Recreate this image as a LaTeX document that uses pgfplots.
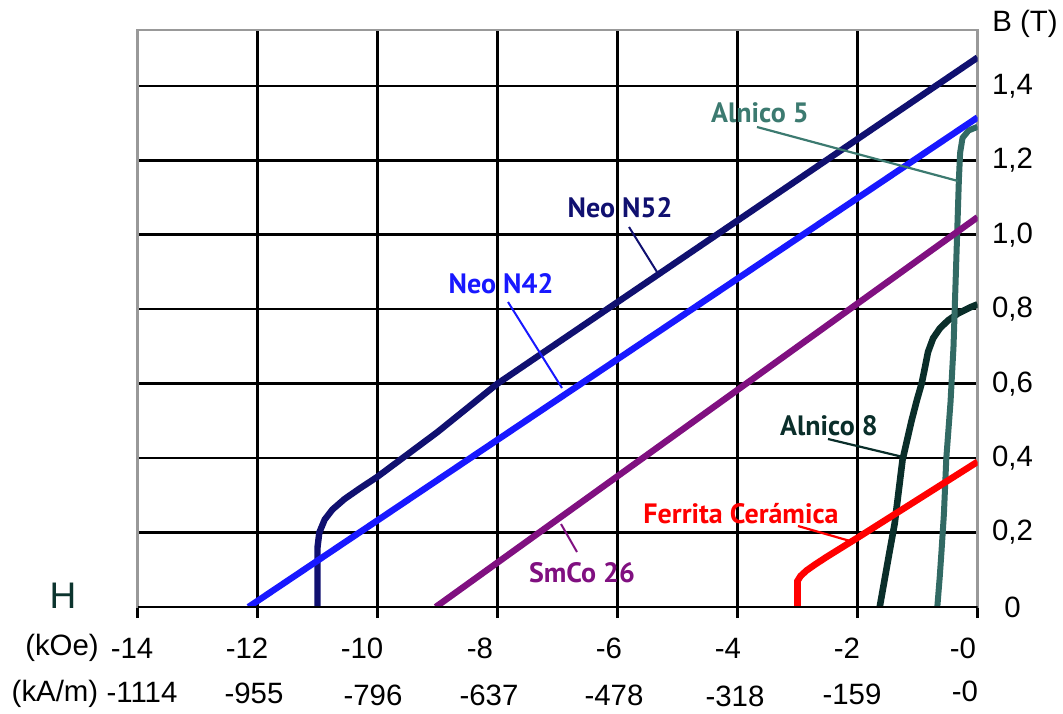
\documentclass[border=0pt]{standalone}
\usepackage{fontspec}
\setmainfont{Liberation Sans}
\newfontfamily\labfont{PT Sans}
\usepackage{pgfplots}
\pgfplotsset{compat=1.18}
\definecolor{cN52}{RGB}{16,16,112}
\definecolor{cN42}{RGB}{24,24,255}
\definecolor{cSm}{RGB}{128,16,128}
\definecolor{cFe}{RGB}{255,0,0}
\definecolor{cA8}{RGB}{10,46,42}
\definecolor{cA5}{RGB}{50,106,100}
\definecolor{cA5t}{RGB}{60,122,112}
\definecolor{cH}{RGB}{12,52,46}
\newcommand{\tf}{\fontsize{14.7}{17}\selectfont}
\newcommand{\lf}{\labfont\bfseries\fontsize{14}{16}\selectfont}
\begin{document}
\begin{tikzpicture}
\useasboundingbox (0,0) rectangle (531.5pt,356.5pt);
\begin{axis}[
  at={(68.75pt,53pt)}, anchor=south west,
  width=420pt, height=288.5pt, scale only axis,
  xmin=-14, xmax=0, ymin=0, ymax=1.55,
  xtick={-14,-12,...,0}, ytick={0,0.2,0.4,0.6,0.8,1.0,1.2,1.4},
  xticklabels={}, 
  yticklabels={0,{0,2},{0,4},{0,6},{0,8},{1,0},{1,2},{1,4}},
  yticklabel pos=right,
  yticklabel style={anchor=center, xshift=12pt, font=\tf},
  grid=major, major grid style={black, line width=1.3pt},
  axis line style={draw=black!40, line width=1.2pt},
  tick align=outside, xtick pos=left,
  major tick length=5.5pt,
  xtick style={black, line width=1.3pt},
  ytick style={draw=none},
]
\addplot[cA8, line width=3.3pt] coordinates {(-1.63,0) (-1.47,0.145) (-1.38,0.225) (-1.25,0.395) (-1.1,0.5) (-1.01,0.556) (-0.93,0.601) (-0.875,0.644) (-0.825,0.685) (-0.74,0.722) (-0.625,0.749) (-0.49,0.77) (-0.32,0.789) (-0.12,0.805) (0,0.813)};
\addplot[cA5, line width=3.0pt] coordinates {(-0.67,0) (-0.63,0.08) (-0.6,0.15) (-0.56,0.25) (-0.52,0.4) (-0.45,0.55) (-0.4,0.7) (-0.37,0.85) (-0.34,1.0) (-0.31,1.15) (-0.29,1.22) (-0.25,1.26) (-0.15,1.28) (0,1.29)};
\addplot[cSm, line width=3.2pt] coordinates {(-9.03,0) (0,1.047)};
\addplot[cN52, line width=3.2pt] coordinates {(-11.0,0) (-11.0,0.16) (-10.97,0.2) (-10.88,0.235) (-10.75,0.262) (-10.55,0.29) (-10.3,0.318) (-10,0.35) (-9.5,0.41) (-9,0.47) (-8.5,0.535) (-8,0.6) (0,1.476)};
\addplot[cN42, line width=3.2pt] coordinates {(-12.15,0) (0,1.315)};
\addplot[cFe, line width=3.3pt] coordinates {(-3.0,0) (-3.0,0.07) (-2.95,0.083) (-2.85,0.098) (-2.7,0.115) (-2.5,0.136) (-2,0.186) (0,0.39)};
\draw[black, line width=1.3pt] (axis cs:-14,0) -- (axis cs:0,0);
\end{axis}
\begin{scope}[x=0.5pt, y=-0.5pt, yshift=356.5pt]
  % x tick labels, first row (kOe)
  \foreach \xx/\lab in {132/-14, 247/-12, 362/-10, 480/-8, 609/-6, 728/-4, 847/-2, 963/-0}
    \node[font=\tf, inner sep=0pt] at (\xx,648) {\lab};
  % second row (kA/m)
  \foreach \xx/\yy/\lab in {142/692/-1114, 254/693/-955, 373/695/-796, 489/695/-637, 614/695/-478, 735/696/-318, 852/694/-159, 965/691/-0}
    \node[font=\tf, inner sep=0pt] at (\xx,\yy) {\lab};
  \node[font=\tf, inner sep=0pt] at (62,648) {(kOe)};
  \node[font=\tf, inner sep=0pt] at (55,694) {(kA/m)};
  \node[font=\fontsize{18.5}{20}\selectfont, text=cH, inner sep=0pt] at (63,596) {H};
  \node[font=\tf, inner sep=0pt] at (1025,24) {B (T)};
  % annotations
  \node[font=\lf, text=cA5t, inner sep=0pt] at (760,113) {Alnico 5};
  \draw[cA5t, line width=1.1pt] (757,127) -- (958,181);
  \node[font=\lf, text=cN52, inner sep=0pt] at (620,208) {Neo N52};
  \draw[cN52, line width=1pt] (629,227) -- (657,272);
  \node[font=\lf, text=cN42, inner sep=0pt] at (501,284) {Neo N42};
  \draw[cN42, line width=1pt] (508,302) -- (562,388);
  \node[font=\lf, text=cSm, inner sep=0pt] at (582,573) {SmCo 26};
  \draw[cSm, line width=1pt] (577,552) -- (561,524);
  \node[font=\lf, text=cA8, inner sep=0pt] at (829,426) {Alnico 8};
  \draw[cA8, line width=1.1pt] (828,439) -- (903,457);
  \node[font=\lf, text=cFe, inner sep=0pt] at (741,514) {Ferrita Cerámica};
  \draw[cFe, line width=1.1pt] (798,526) -- (850,541);
\end{scope}
\end{tikzpicture}
\end{document}
